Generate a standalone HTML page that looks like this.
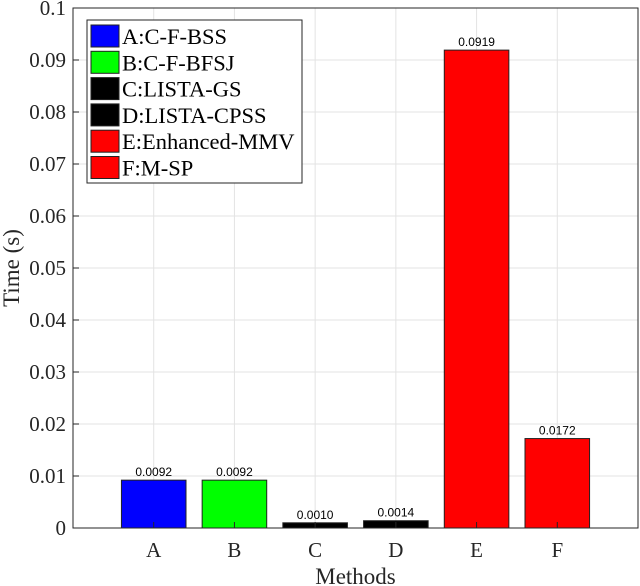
<!DOCTYPE html>
<html><head><meta charset="utf-8"><style>
body{margin:0;background:#fff;}
svg{display:block;font-family:"Liberation Serif",serif;}
</style></head><body>
<svg id="chart" width="640" height="586"></svg>
<script>
const categories=["A","B","C","D","E","F"];
const values=[0.0092,0.0092,0.0010,0.0014,0.0919,0.0172];
const valueLabels=["0.0092","0.0092","0.0010","0.0014","0.0919","0.0172"];
const colors=["#0000ff","#00ff00","#000000","#000000","#ff0000","#ff0000"];
const legendLabels=["A:C-F-BSS","B:C-F-BFSJ","C:LISTA-GS","D:LISTA-CPSS","E:Enhanced-MMV","F:M-SP"];
const yTicks=[0,0.01,0.02,0.03,0.04,0.05,0.06,0.07,0.08,0.09,0.1];
const yTickLabels=["0","0.01","0.02","0.03","0.04","0.05","0.06","0.07","0.08","0.09","0.1"];

const NS="http://www.w3.org/2000/svg";
const svg=document.getElementById('chart');
const L=73,R=638,T=8,B=528;
const xs=i=>L+(i+1)*(R-L)/7;
const ys=v=>B-(v/0.1)*(B-T);
const bw=0.8*(R-L)/7;
function mk(tag,attrs,parent){const e=document.createElementNS(NS,tag);for(const k in attrs)e.setAttribute(k,attrs[k]);(parent||svg).appendChild(e);return e;}
yTicks.forEach((t,i)=>{
  const g=mk('line',{x1:L,x2:R,y1:ys(t),y2:ys(t),stroke:'#e3e3e3','stroke-width':1});
  
  
  const tl=mk('text',{x:L-7,y:ys(t)+7,'text-anchor':'end','font-size':21,fill:'#262626'});
  tl.textContent=yTickLabels[i];
  
  
  const tk=mk('line',{x1:L,x2:L+6,y1:ys(t),y2:ys(t),stroke:'#262626'});
  
  
});
categories.forEach((c,i)=>{
  const g=mk('line',{x1:xs(i),x2:xs(i),y1:T,y2:B,stroke:'#e3e3e3','stroke-width':1});
  
  
});
categories.forEach((c,i)=>{
  const y=ys(values[i]);
  const b=mk('rect',{x:xs(i)-bw/2,y:y,width:bw,height:B-y,fill:colors[i],stroke:'#222','stroke-width':1});
  
  
  const vl=mk('text',{x:xs(i),y:y-4,'text-anchor':'middle','font-size':12,'font-family':'Liberation Sans, sans-serif',fill:'#000'});
  vl.textContent=valueLabels[i];
  
  
  const tk=mk('line',{x1:xs(i),x2:xs(i),y1:B,y2:B-6,stroke:'#262626'});
  
  
  const xl=mk('text',{x:xs(i),y:B+29,'text-anchor':'middle','font-size':21,fill:'#262626'});
  xl.textContent=c;
  
  
});
const ax=mk('rect',{x:L,y:T,width:R-L,height:B-T,fill:'none',stroke:'#262626','stroke-width':1});


const xt=mk('text',{x:(L+R)/2,y:584,'text-anchor':'middle','font-size':23,fill:'#262626'});
xt.textContent='Methods';


const yt=mk('text',{x:0,y:0,'text-anchor':'middle','font-size':23,fill:'#262626',transform:'translate(19,268) rotate(-90)'});
yt.textContent='Time (s)';


const lg=mk('g',{});


mk('rect',{x:87,y:20,width:215,height:163,fill:'#fff',stroke:'#262626','stroke-width':1},lg);
legendLabels.forEach((t,i)=>{
  const cy=36+i*26.3;
  const e=mk('g',{},lg);
  
  
  mk('rect',{x:91,y:cy-11,width:28,height:22,fill:colors[i],stroke:'#222'},e);
  const tx=mk('text',{x:122,y:cy+8,'font-size':22.5,fill:'#000'},e);
  tx.textContent=t;
});
</script>
</body></html>
